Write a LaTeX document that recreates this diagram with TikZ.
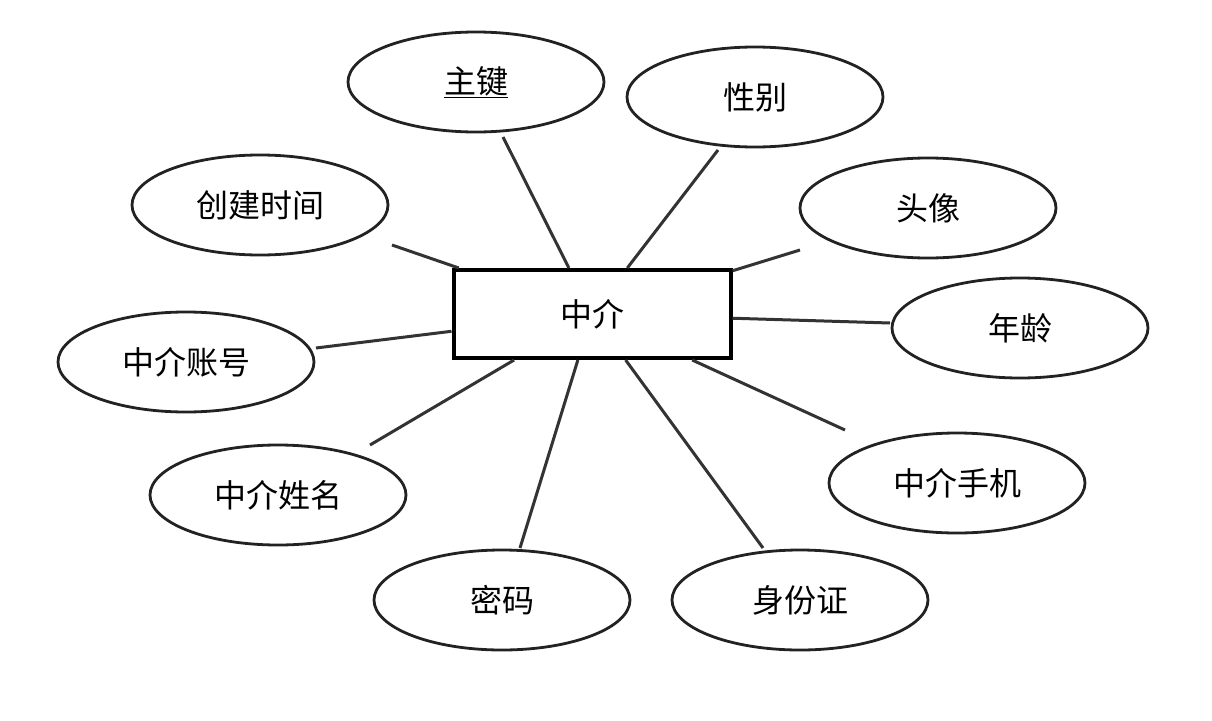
\documentclass[tikz,border=0pt]{standalone}
\usepackage{fontspec}
\setmainfont{Noto Sans CJK SC}
\usetikzlibrary{shapes.geometric}
\definecolor{EdgeGray}{HTML}{333333}
\definecolor{OutlineBlack}{HTML}{222222}

\begin{document}
\begin{tikzpicture}[x=1pt, y=-1pt,
  attr/.style={ellipse, draw=OutlineBlack, line width=2.8pt, minimum width=256pt,
    minimum height=100pt, inner sep=0pt, font=\fontsize{32}{32}\selectfont},
  entity/.style={rectangle, draw=black, line width=4pt, minimum width=277pt,
    minimum height=88pt, font=\fontsize{32}{32}\selectfont},
  link/.style={EdgeGray, line width=3pt}]
  \useasboundingbox (0,0) rectangle (1212,720);

  \node[entity] (agent) at (592,314) {中介};

  \node[attr] (pk)      at (476,82)  {\underline{主键}};
  \node[attr] (gender)  at (755,97)  {性别};
  \node[attr] (avatar)  at (928,208) {头像};
  \node[attr] (age)     at (1020,328) {年龄};
  \node[attr] (phone)   at (957,483) {中介手机};
  \node[attr] (idcard)  at (800,600) {身份证};
  \node[attr] (pwd)     at (502,600) {密码};
  \node[attr] (name)    at (278,495) {中介姓名};
  \node[attr] (account) at (186,362) {中介账号};
  \node[attr] (created) at (260,205) {创建时间};

  \coordinate (pkEnd)      at (503,137);
  \coordinate (genderEnd)  at (718,150);
  \coordinate (avatarEnd)  at (800,250);
  \coordinate (ageEnd)     at (890,323);
  \coordinate (phoneEnd)   at (845,430);
  \coordinate (idcardEnd)  at (763,548);
  \coordinate (pwdEnd)     at (520,548);
  \coordinate (nameEnd)    at (370,445);
  \coordinate (accountEnd) at (316,348);
  \coordinate (createdEnd) at (392,245);

  \foreach \e in {pk,gender,avatar,age,phone,idcard,pwd,name,account,created}
    \draw[link] (agent) -- (\e End);
\end{tikzpicture}
\end{document}
